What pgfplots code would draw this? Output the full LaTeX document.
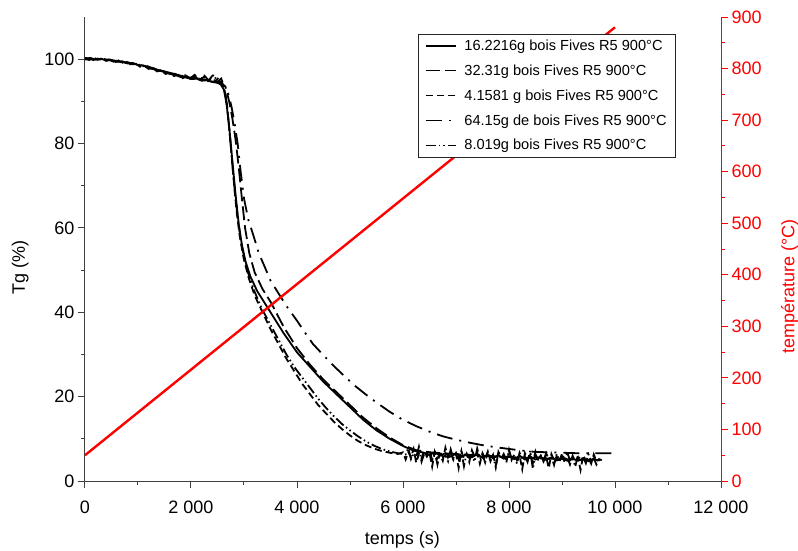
\documentclass[border=0pt]{standalone}
\usepackage{pgfplots}
\pgfplotsset{compat=1.18}
\usepackage{fontspec}
\setmainfont{Liberation Sans}
\definecolor{axgray}{RGB}{64,64,64}
\definecolor{tred}{RGB}{255,0,0}
\begin{document}
\begin{tikzpicture}
\pgfplotsset{
  common/.style={
    scale only axis, width=636pt, height=464pt,
    xmin=0, xmax=12000, enlargelimits=false,
    tick align=outside, major tick length=7pt, minor tick length=4pt,
    minor tick num=1,
    /pgf/number format/assume math mode=true,
    /pgf/number format/1000 sep={\ },
    scaled ticks=false,
    tick label style={font=\fontsize{18}{21}\selectfont},
    label style={font=\fontsize{18}{21}\selectfont},
    axis line style={-},
  },
  lA/.style={black, line width=1.8pt, solid},
  lB/.style={black, line width=1.8pt, dash pattern=on 14pt off 5pt},
  lC/.style={black, line width=1.8pt, dash pattern=on 7pt off 4pt},
  lD/.style={black, line width=1.8pt, dash pattern=on 16pt off 7pt on 2pt off 7pt},
  lE/.style={black, line width=1.8pt, dash pattern=on 10pt off 3pt on 1.5pt off 3pt on 1.5pt off 3pt},
}
\begin{axis}[common,
  ymin=0, ymax=110,
  axis x line*=bottom, axis y line*=left,
  x axis line style={axgray, line width=1pt}, y axis line style={axgray, line width=1pt},
  xtick={0,2000,...,12000}, ytick={0,20,...,100},
  every tick/.style={axgray, line width=1pt},
  xticklabel style={yshift=-9pt},
  xlabel={temps (s)}, ylabel={Tg (\%)},
  xlabel style={at={(axis description cs:0.499,-0.127)}, anchor=center},
  ylabel style={at={(axis description cs:-0.102,0.46)}, anchor=center, rotate=0},
]
\coordinate (O) at (rel axis cs:0,0);
% 16.2216g solid
\addplot[lA] coordinates {
(0,100.0)(100,100.3)(200,99.9)(300,100.1)(400,99.7)(500,99.8)(600,99.4)(700,99.5)(800,99.0)(900,99.1)
(1000,98.6)(1100,98.5)(1200,98.0)(1300,97.8)(1400,97.3)(1500,97.0)(1600,96.5)(1700,96.3)(1800,95.8)(1900,95.7)
(2000,95.3)(2100,95.4)(2200,94.9)(2300,95.0)(2400,94.6)(2500,94.4)(2560,94.0)(2620,92.8)(2670,89.5)(2720,84)
(2780,76)(2840,68)(2900,61)(2960,56)(3030,52)(3120,48.5)(3250,45)(3400,42)(3500,40)(3750,35)
(4000,30.5)(4250,27)(4500,23.5)(4750,20.5)(5000,17.5)(5250,14.5)(5500,12)(5750,10)(6000,8.3)(6200,7.2)
(6400,6.7)(6500,6.2)(6600,6.8)(6700,6.0)(6800,6.6)(6900,5.8)(7000,6.5)(7100,5.7)(7200,6.3)(7300,5.6)
(7400,6.4)(7500,5.5)(7600,6.2)(7700,5.4)(7800,6.1)(7900,5.3)(8000,5.9)(8100,5.2)(8200,6.0)(8300,5.1)
(8400,5.8)(8500,5.1)(8600,5.7)(8700,5.0)(8800,5.6)(8900,4.9)(9000,5.5)(9100,4.8)(9200,5.3)(9300,4.8)
(9400,5.2)(9500,4.7)(9600,5.1)(9700,4.9)};
% 32.31g long dash
\addplot[lB] coordinates {
(0,100.2)(150,99.9)(300,100.2)(450,99.8)(600,99.6)(750,99.3)(900,99.0)(1050,98.6)(1200,98.2)(1350,97.6)
(1500,97.1)(1650,96.6)(1800,96.1)(1950,95.7)(2100,95.5)(2250,95.1)(2400,94.9)(2550,94.6)(2650,93.5)(2720,90)
(2780,86)(2840,81)(2900,74.5)(2960,67)(3020,60)(3100,54)(3200,49.5)(3350,45.5)(3500,42.5)(3750,36.5)
(4000,31.5)(4250,27.5)(4500,24)(4750,21)(5000,18)(5250,15)(5500,12.5)(5750,10.3)(6000,8.5)(6250,7.3)
(6500,6.8)(7000,6.4)(7500,6.0)(8000,5.7)(8500,5.4)(9000,5.2)(9500,5.0)(9720,5.0)};
% 4.1581g short dash
\addplot[lC] coordinates {
(0,100.1)(80,99.8)(160,100.4)(240,99.9)(320,100.2)(400,99.6)(480,99.9)(560,99.3)(640,99.6)(720,99.0)
(800,99.3)(880,98.6)(960,98.9)(1040,98.2)(1120,98.4)(1200,97.7)(1280,97.9)(1360,97.1)(1440,97.4)(1520,96.5)
(1600,96.8)(1680,96.0)(1760,96.3)(1840,95.5)(1920,96.0)(2000,95.2)(2080,95.9)(2160,94.9)(2240,95.8)(2320,94.8)
(2400,96.0)(2460,94.7)(2520,95.6)(2580,94.5)(2630,93.0)(2680,89)(2740,81)(2800,72)(2860,64)(2920,58)
(2990,53)(3080,48.5)(3200,44)(3350,40)(3500,36)(3650,32.5)(3800,29)(3950,26)(4100,23)(4250,20.5)
(4400,18)(4550,16)(4700,14)(4850,12.3)(5000,10.8)(5150,9.5)(5300,8.5)(5450,7.7)(5600,7.1)(5750,6.7)
(5900,6.4)(6000,6.8)(6050,5.1)(6100,6.9)(6150,5.6)(6200,7.6)(6250,4.3)(6300,6.5)(6350,5.4)(6400,7.2)
(6450,5.8)(6500,6.7)(6550,3.4)(6600,7.0)(6650,5.4)(6700,6.3)(6750,4.8)(6800,7.9)(6850,5.6)(6900,6.8)
(6950,5.0)(7000,6.4)(7050,3.1)(7100,7.1)(7150,5.3)(7200,6.5)(7250,4.5)(7300,7.3)(7350,5.8)(7400,6.7)
(7450,4.1)(7500,6.6)(7550,5.2)(7600,7.0)(7650,4.7)(7700,6.2)(7750,3.6)(7800,6.9)(7850,5.5)(7900,6.1)
(7950,4.4)(8000,7.4)(8050,5.0)(8100,6.3)(8150,4.9)(8200,6.0)(8250,2.8)(8300,6.6)(8350,5.1)(8400,6.2)
(8450,4.2)(8500,7.0)(8550,5.3)(8600,6.0)(8650,4.6)(8700,5.9)(8750,3.0)(8800,6.4)(8850,4.9)(8900,5.8)
(8950,4.3)(9000,6.6)(9050,5.0)(9100,5.7)(9150,3.9)(9200,6.0)(9250,4.7)(9300,5.6)(9350,2.6)(9400,6.1)
(9450,4.8)(9500,5.5)(9550,4.1)(9600,6.3)(9650,4.6)(9700,5.2)(9750,4.9)};
% 64.15g dash dot
\addplot[lD] coordinates {
(0,100.3)(150,100.0)(300,99.9)(450,99.9)(600,99.5)(750,99.2)(900,98.9)(1050,98.4)(1200,97.9)(1350,97.5)
(1500,97.0)(1650,96.4)(1800,95.9)(1950,95.6)(2100,95.2)(2250,95.0)(2400,94.7)(2550,94.4)(2640,93.5)(2700,92)
(2760,89)(2820,85)(2880,80)(2940,73)(3000,67)(3080,62)(3170,58.5)(3280,54)(3400,50.5)(3500,47.5)
(3650,44.5)(3800,41.5)(4000,38)(4150,35.2)(4300,32.5)(4500,29.8)(4700,27.2)(4900,24.8)(5100,22.5)(5300,20.5)
(5500,18.6)(5750,16.4)(6000,14.5)(6250,13.0)(6500,11.7)(6750,10.6)(7000,9.8)(7250,9.1)(7500,8.5)(7750,8.0)
(8000,7.6)(8250,7.2)(8500,6.9)(8750,6.8)(9000,6.7)(9250,6.6)(9500,6.6)(9800,6.6)(10000,6.6)};
% 8.019g dash dot dot
\addplot[lE] coordinates {
(0,99.9)(90,100.2)(180,99.7)(270,100.3)(360,99.8)(450,99.9)(540,99.4)(630,99.7)(720,99.1)(810,99.2)
(900,98.8)(990,98.9)(1080,98.3)(1170,98.4)(1260,97.8)(1350,97.6)(1440,97.2)(1530,96.9)(1620,96.6)(1710,96.5)
(1800,95.9)(1890,96.2)(1980,95.4)(2070,96.3)(2160,95.0)(2250,96.1)(2340,94.9)(2430,96.3)(2500,94.6)(2570,95.4)
(2610,94.0)(2660,91)(2720,84)(2780,75)(2840,67)(2900,60.5)(2970,55)(3060,50)(3180,45.5)(3330,41)
(3500,37)(3650,33.5)(3800,30)(3950,27)(4100,24.5)(4250,22)(4400,19.5)(4550,17.3)(4700,15.3)(4850,13.5)
(5000,12)(5150,10.6)(5300,9.4)(5450,8.4)(5600,7.6)(5750,7.0)(5900,6.6)(6050,6.3)(6100,7.8)(6150,5.2)
(6200,6.6)(6250,5.7)(6300,8.1)(6350,4.6)(6400,6.4)(6450,5.9)(6500,7.3)(6550,5.0)(6600,6.8)(6650,3.9)
(6700,7.0)(6750,5.7)(6800,6.1)(6850,4.7)(6900,7.5)(6950,5.4)(7000,6.6)(7050,5.1)(7100,7.2)(7150,3.5)
(7200,6.7)(7250,5.5)(7300,6.2)(7350,4.6)(7400,7.7)(7450,5.3)(7500,6.3)(7550,4.4)(7600,6.8)(7650,5.6)
(7700,6.1)(7750,3.2)(7800,6.9)(7850,5.2)(7900,6.4)(7950,4.8)(8000,7.1)(8050,5.4)(8100,6.0)(8150,4.1)
(8200,6.7)(8250,5.3)(8300,5.9)(8350,4.5)(8400,7.2)(8450,2.9)(8500,6.3)(8550,5.1)(8600,6.0)(8650,4.7)
(8700,6.6)(8750,5.2)(8800,5.8)(8850,3.8)(8900,6.4)(8950,5.0)(9000,5.9)(9050,4.5)(9100,6.8)(9150,4.9)
(9200,5.7)(9250,3.4)(9300,6.1)(9350,5.0)(9400,5.6)(9450,4.2)(9500,6.3)(9550,4.8)(9600,5.4)(9650,3.9)
(9700,5.1)};
\end{axis}
\begin{axis}[common,
  ymin=0, ymax=900,
  axis x line=none, axis y line*=right,
  y axis line style={tred, line width=1pt},
  every tick/.style={tred, line width=1pt},
  ytick={0,100,...,900},
  yticklabel style={text=tred},
  ylabel={température (°C)},
  ylabel style={text=tred, at={(axis description cs:1.108,0.42)}, anchor=center, rotate=0},
  legend image code/.code={\draw[#1, line width=1.2pt] (0pt,0pt) -- (30pt,0pt);},
  legend style={at={(0.929,0.963)}, anchor=north east, draw=black!85, fill=white,
    font=\fontsize{14.6}{17}\selectfont, text=black, row sep=8.8pt, column sep=6pt,
    inner xsep=7pt, inner ysep=3.5pt},
  legend cell align=left,
]
\addplot[tred, line width=2.4pt, forget plot] coordinates {(0,50)(10000,880)};
\addlegendimage{lA}\addlegendentry{16.2216g bois Fives R5 900°C}
\addlegendimage{lB}\addlegendentry{32.31g bois Fives R5 900°C}
\addlegendimage{lC}\addlegendentry{4.1581 g bois Fives R5 900°C}
\addlegendimage{lD}\addlegendentry{64.15g de bois Fives R5 900°C}
\addlegendimage{lE}\addlegendentry{8.019g bois Fives R5 900°C}
\end{axis}
\pgfresetboundingbox
\path[use as bounding box] (O) ++(-85pt,-69pt) rectangle ++(798pt,550pt);
\end{tikzpicture}
\end{document}
